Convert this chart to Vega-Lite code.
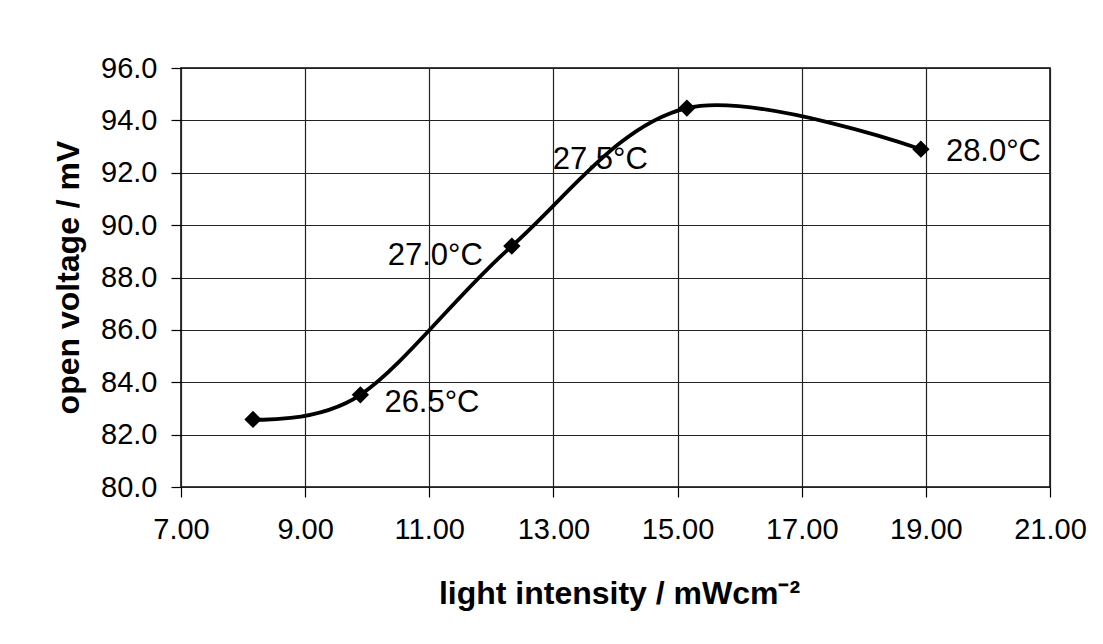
{
  "$schema": "https://vega.github.io/schema/vega-lite/v6.json",
  "autosize": {"type": "none"},
  "width": 869,
  "height": 419,
  "padding": {"left": 181, "top": 68, "right": 53, "bottom": 157},
  "background": "white",
  "config": {
    "font": "Liberation Sans",
    "view": {"stroke": "black", "strokeWidth": 1.5},
    "axis": {
      "gridColor": "#222222",
      "gridWidth": 1.2,
      "gridOpacity": 1,
      "tickColor": "black",
      "tickSize": 10,
      "tickWidth": 1.2,
      "domain": false,
      "labelColor": "black",
      "labelFont": "Liberation Sans",
      "labelFontSize": 29,
      "titleColor": "black",
      "titleFont": "Liberation Sans",
      "titleFontWeight": "bold",
      "titleFontSize": 32
    }
  },
  "data": {
    "values": [
      {"intensity": 8.16, "voltage": 82.58, "label": ""},
      {"intensity": 9.89, "voltage": 83.52, "label": "26.5°C"},
      {"intensity": 12.33, "voltage": 89.2, "label": "27.0°C"},
      {"intensity": 15.15, "voltage": 94.47, "label": "27.5°C"},
      {"intensity": 18.92, "voltage": 92.9, "label": "28.0°C"}
    ]
  },
  "encoding": {
    "x": {
      "field": "intensity",
      "type": "quantitative",
      "scale": {"domain": [7, 21], "nice": false, "zero": false},
      "axis": {
        "values": [7, 9, 11, 13, 15, 17, 19, 21],
        "format": ".2f",
        "labelPadding": 18,
        "labelFlush": false,
        "title": "light intensity / mWcm⁻²",
        "titleX": 438,
        "titleY": 106,
        "titleBaseline": "middle",
        "titleAlign": "center"
      }
    },
    "y": {
      "field": "voltage",
      "type": "quantitative",
      "scale": {"domain": [80, 96], "nice": false, "zero": false},
      "axis": {
        "values": [80, 82, 84, 86, 88, 90, 92, 94, 96],
        "format": ".1f",
        "labelPadding": 14,
        "labelFlush": false,
        "title": "open voltage / mV",
        "titleX": -113,
        "titleY": 209,
        "titleAngle": -90,
        "titleBaseline": "middle",
        "titleAlign": "center"
      }
    }
  },
  "layer": [
    {
      "mark": {"type": "line", "interpolate": "cardinal", "color": "black", "strokeWidth": 3.8}
    },
    {
      "mark": {"type": "point", "shape": "diamond", "filled": true, "color": "black", "opacity": 1, "size": 300}
    },
    {
      "transform": [{"filter": "datum.label == '26.5°C'"}],
      "mark": {"type": "text", "align": "left", "baseline": "middle", "dx": 24, "dy": 8, "fontSize": 31, "color": "black"},
      "encoding": {"text": {"field": "label"}}
    },
    {
      "transform": [{"filter": "datum.label == '27.0°C'"}],
      "mark": {"type": "text", "align": "right", "baseline": "middle", "dx": -29, "dy": 10, "fontSize": 31, "color": "black"},
      "encoding": {"text": {"field": "label"}}
    },
    {
      "transform": [{"filter": "datum.label == '27.5°C'"}],
      "mark": {"type": "text", "align": "right", "baseline": "middle", "dx": -39, "dy": 52, "fontSize": 31, "color": "black"},
      "encoding": {"text": {"field": "label"}}
    },
    {
      "transform": [{"filter": "datum.label == '28.0°C'"}],
      "mark": {"type": "text", "align": "left", "baseline": "middle", "dx": 25, "dy": 3, "fontSize": 31, "color": "black"},
      "encoding": {"text": {"field": "label"}}
    }
  ]
}
